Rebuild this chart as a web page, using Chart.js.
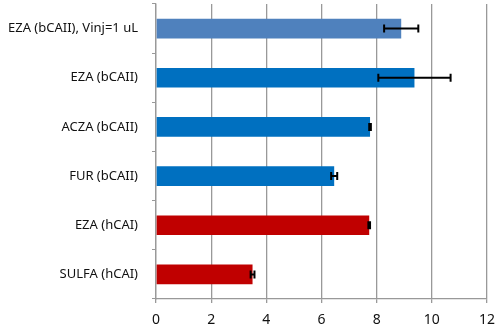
<!DOCTYPE html>
<html><head><meta charset="utf-8">
<script src="https://cdn.jsdelivr.net/npm/chart.js@4/dist/chart.umd.min.js"></script>
<style>html,body{margin:0;padding:0;background:#fff;}#wrap{width:500px;height:327px;}</style>
</head><body><div id="wrap"><canvas id="c" width="500" height="327"></canvas></div>
<script>
const categories = ["EZA (bCAII), Vinj=1 uL","EZA (bCAII)","ACZA (bCAII)","FUR (bCAII)","EZA (hCAI)","SULFA (hCAI)"];
const values = [8.89, 9.37, 7.76, 6.46, 7.73, 3.50];
const errors = [0.62, 1.31, 0.03, 0.11, 0.03, 0.07];
const barColors = ["#4F81BD","#0070C0","#0070C0","#0070C0","#C00000","#C00000"];
const xTicks = [0,2,4,6,8,10,12];

const errPlugin = {
  id:'errbars',
  afterDatasetsDraw(chart){
    const ctx = chart.ctx, xs = chart.scales.x, ys = chart.scales.y;
    ctx.save();
    ctx.strokeStyle = '#000'; ctx.lineWidth = 2;
    values.forEach((v,i)=>{
      const y = ys.getPixelForValue(i);
      const x1 = xs.getPixelForValue(v-errors[i]), x2 = xs.getPixelForValue(v+errors[i]);
      ctx.beginPath();
      ctx.moveTo(x1,y); ctx.lineTo(x2,y);
      ctx.moveTo(x1,y-4); ctx.lineTo(x1,y+4);
      ctx.moveTo(x2,y-4); ctx.lineTo(x2,y+4);
      ctx.stroke();
    });
    ctx.restore();
  }
};

new Chart(document.getElementById('c'), {
  type:'bar',
  data:{labels:categories, datasets:[{data:values, backgroundColor:barColors, categoryPercentage:0.4, barPercentage:1.0}]},
  options:{
    indexAxis:'y', responsive:false, animation:false,
    layout:{padding:{top:4,right:13,left:0,bottom:0}},
    plugins:{legend:{display:false}, tooltip:{enabled:false}},
    scales:{
      x:{min:0,max:12,
        afterBuildTicks(s){ s.ticks = xTicks.map(v=>({value:v})); },
        afterFit(s){ s.height = 28; s.paddingLeft = 0; s.paddingRight = 0; },
        grid:{color:'#999999', lineWidth:1.3, tickLength:4, drawTicks:true},
        border:{color:'#999999', width:1.3},
        ticks:{color:'#111', font:{family:'Noto Sans', size:14}, padding:9}
      },
      y:{
        afterFit(s){ s.width = 156; s.paddingTop = 0; s.paddingBottom = 0; },
        grid:{offset:true, drawOnChartArea:false, color:'#999999', tickLength:4},
        border:{color:'#999999', width:1.3},
        ticks:{color:'#111', font:{family:'Noto Sans', size:13}, padding:14}
      }
    }
  },
  plugins:[errPlugin]
});
</script></body></html>
